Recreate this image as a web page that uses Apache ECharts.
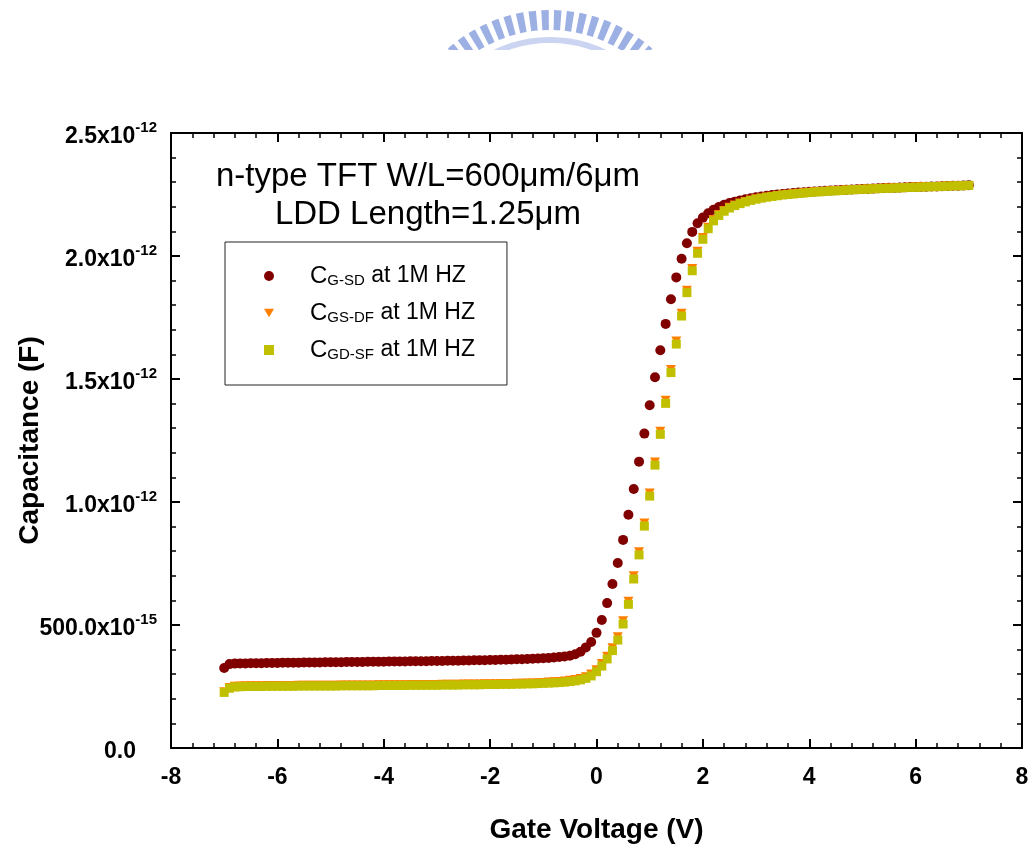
<!DOCTYPE html>
<html>
<head>
<meta charset="utf-8">
<title>C-V</title>
<script src="https://cdn.jsdelivr.net/npm/echarts@6/dist/echarts.min.js"></script>
<style>
  html, body { margin: 0; padding: 0; background: #fff; }
  #cv { width: 1030px; height: 845px; }
</style>
</head>
<body>
<div id="cv"></div>
<script>
// gate voltage sweep (V)
var volt = [
  -7.0,-6.9,-6.8,-6.7,-6.6,-6.5,-6.4,-6.3,-6.2,-6.1,
  -6.0,-5.9,-5.8,-5.7,-5.6,-5.5,-5.4,-5.3,-5.2,-5.1,
  -5.0,-4.9,-4.8,-4.7,-4.6,-4.5,-4.4,-4.3,-4.2,-4.1,
  -4.0,-3.9,-3.8,-3.7,-3.6,-3.5,-3.4,-3.3,-3.2,-3.1,
  -3.0,-2.9,-2.8,-2.7,-2.6,-2.5,-2.4,-2.3,-2.2,-2.1,
  -2.0,-1.9,-1.8,-1.7,-1.6,-1.5,-1.4,-1.3,-1.2,-1.1,
  -1.0,-0.9,-0.8,-0.7,-0.6,-0.5,-0.4,-0.3,-0.2,-0.1,
  0.0,0.1,0.2,0.3,0.4,0.5,0.6,0.7,0.8,0.9,
  1.0,1.1,1.2,1.3,1.4,1.5,1.6,1.7,1.8,1.9,
  2.0,2.1,2.2,2.3,2.4,2.5,2.6,2.7,2.8,2.9,
  3.0,3.1,3.2,3.3,3.4,3.5,3.6,3.7,3.8,3.9,
  4.0,4.1,4.2,4.3,4.4,4.5,4.6,4.7,4.8,4.9,
  5.0,5.1,5.2,5.3,5.4,5.5,5.6,5.7,5.8,5.9,
  6.0,6.1,6.2,6.3,6.4,6.5,6.6,6.7,6.8,6.9,
  7.0
];

// capacitance, in units of 1e-12 F
var cGSD = [
  0.325,0.341,0.343,0.344,0.344,0.345,0.345,0.345,0.346,0.346,
  0.346,0.347,0.347,0.347,0.347,0.348,0.348,0.348,0.348,0.349,
  0.349,0.349,0.349,0.350,0.350,0.350,0.350,0.351,0.351,0.351,
  0.351,0.352,0.352,0.352,0.352,0.353,0.353,0.353,0.353,0.354,
  0.354,0.354,0.355,0.355,0.355,0.356,0.356,0.357,0.357,0.357,
  0.358,0.358,0.359,0.359,0.360,0.361,0.361,0.362,0.363,0.364,
  0.365,0.366,0.368,0.370,0.372,0.375,0.381,0.391,0.409,0.431,
  0.468,0.520,0.589,0.667,0.752,0.846,0.948,1.053,1.164,1.278,
  1.393,1.507,1.617,1.724,1.824,1.913,1.989,2.052,2.098,2.133,
  2.156,2.174,2.188,2.199,2.208,2.215,2.221,2.226,2.231,2.235,
  2.239,2.242,2.245,2.248,2.250,2.252,2.254,2.256,2.258,2.259,
  2.261,2.262,2.263,2.265,2.266,2.267,2.268,2.269,2.270,2.271,
  2.272,2.273,2.274,2.275,2.276,2.277,2.277,2.278,2.279,2.280,
  2.280,2.281,2.282,2.283,2.283,2.284,2.285,2.286,2.286,2.287,
  2.288
];

var cGSDF = [
  0.229,0.246,0.251,0.252,0.253,0.253,0.253,0.253,0.254,0.254,
  0.254,0.254,0.254,0.254,0.255,0.255,0.255,0.255,0.255,0.255,
  0.255,0.255,0.256,0.256,0.256,0.256,0.256,0.256,0.256,0.257,
  0.257,0.257,0.257,0.257,0.257,0.258,0.258,0.258,0.258,0.258,
  0.258,0.259,0.259,0.259,0.259,0.260,0.260,0.260,0.260,0.261,
  0.261,0.261,0.262,0.262,0.262,0.263,0.263,0.264,0.264,0.265,
  0.266,0.268,0.269,0.270,0.272,0.275,0.278,0.283,0.290,0.301,
  0.318,0.343,0.373,0.408,0.452,0.517,0.597,0.700,0.798,0.915,
  1.037,1.163,1.288,1.414,1.539,1.654,1.767,1.861,1.949,2.019,
  2.075,2.117,2.148,2.169,2.185,2.198,2.207,2.215,2.222,2.228,
  2.233,2.236,2.240,2.243,2.246,2.249,2.251,2.253,2.255,2.257,
  2.259,2.261,2.262,2.263,2.265,2.266,2.267,2.268,2.269,2.270,
  2.271,2.272,2.273,2.274,2.275,2.276,2.277,2.277,2.278,2.279,
  2.280,2.281,2.281,2.282,2.283,2.284,2.284,2.285,2.286,2.286,
  2.287
];

var cGDSF = [
  0.226,0.243,0.248,0.249,0.250,0.250,0.250,0.250,0.251,0.251,
  0.251,0.251,0.251,0.251,0.252,0.252,0.252,0.252,0.252,0.252,
  0.252,0.252,0.253,0.253,0.253,0.253,0.253,0.253,0.253,0.254,
  0.254,0.254,0.254,0.254,0.254,0.255,0.255,0.255,0.255,0.255,
  0.255,0.256,0.256,0.256,0.256,0.257,0.257,0.257,0.257,0.258,
  0.258,0.258,0.259,0.259,0.259,0.260,0.260,0.261,0.261,0.262,
  0.263,0.264,0.265,0.266,0.268,0.270,0.273,0.277,0.283,0.293,
  0.310,0.333,0.362,0.396,0.439,0.504,0.584,0.687,0.785,0.902,
  1.024,1.150,1.275,1.401,1.526,1.642,1.756,1.851,1.940,2.011,
  2.068,2.111,2.143,2.165,2.182,2.195,2.205,2.213,2.220,2.226,
  2.231,2.235,2.239,2.242,2.245,2.248,2.250,2.252,2.254,2.256,
  2.258,2.260,2.261,2.263,2.264,2.265,2.266,2.268,2.269,2.270,
  2.271,2.272,2.273,2.274,2.275,2.275,2.276,2.277,2.278,2.279,
  2.279,2.280,2.281,2.282,2.282,2.283,2.284,2.285,2.285,2.286,
  2.287
];

// y tick labels (value in 1e-12 F)
var yTickVal  = [0, 0.5, 1.0, 1.5, 2.0, 2.5];
var yTickMain = ['0.0', '500.0x10', '1.0x10', '1.5x10', '2.0x10', '2.5x10'];
var yTickSup  = ['', '-15', '-12', '-12', '-12', '-12'];

var seriesNames = ['C_G-SD at 1M HZ', 'C_GS-DF at 1M HZ', 'C_GD-SF at 1M HZ'];
var seriesSubs  = ['G-SD', 'GS-DF', 'GD-SF'];

var FONT = '"Liberation Sans", Arial, Helvetica, sans-serif';
var TRI_DOWN = 'path://M0,0L10,0L5,8.6Z';

function pairs(ys) {
    return volt.map(function (v, i) { return [v, ys[i]]; });
}

var myChart = echarts.init(document.getElementById('cv'));

var axisCommon = {
    min: -8, max: 8, interval: 2,
    axisLine: { show: true, onZero: false, lineStyle: { color: '#000', width: 2 } },
    axisTick: { show: true, inside: true, length: 9, lineStyle: { color: '#000', width: 2 } },
    minorTick: { show: true, splitNumber: 5, length: 5, lineStyle: { color: '#000', width: 1.5 } },
    splitLine: { show: false }
};

var yCommon = {
    min: 0, max: 2.5, interval: 0.5,
    axisLine: { show: true, onZero: false, lineStyle: { color: '#000', width: 2 } },
    axisTick: { show: true, inside: true, length: 9, lineStyle: { color: '#000', width: 2 } },
    minorTick: { show: true, splitNumber: 5, length: 5, lineStyle: { color: '#000', width: 1.5 } },
    splitLine: { show: false }
};

var option = {
    animation: false,
    backgroundColor: '#fff',
    textStyle: { fontFamily: FONT },
    grid: { left: 171, right: 8, top: 133, bottom: 97, containLabel: false, outerBoundsMode: 'none' },
    legend: {
        orient: 'vertical',
        left: 225, top: 242,
        padding: [22, 32, 23, 39],
        itemGap: 13,
        itemWidth: 10, itemHeight: 10,
        borderColor: '#222', borderWidth: 1, borderRadius: 0,
        selectedMode: false,
        data: [
            { name: seriesNames[0], icon: 'circle' },
            { name: seriesNames[1], icon: TRI_DOWN },
            { name: seriesNames[2], icon: 'rect' }
        ],
        formatter: function (name) {
            var i = seriesNames.indexOf(name);
            return '{g|}{c|C}{s|' + seriesSubs[i] + '}{t| at 1M HZ}';
        },
        textStyle: {
            fontFamily: FONT,
            rich: {
                g: { width: 31, height: 24 },
                c: { fontSize: 24, lineHeight: 24, color: '#000', fontFamily: FONT },
                s: { fontSize: 15, lineHeight: 11, verticalAlign: 'bottom', color: '#000', fontFamily: FONT },
                t: { fontSize: 23, lineHeight: 24, color: '#000', fontFamily: FONT }
            }
        }
    },
    xAxis: [
        Object.assign({}, axisCommon, {
            type: 'value', position: 'bottom',
            name: 'Gate Voltage (V)', nameLocation: 'middle', nameGap: 68,
            nameMoveOverlap: false,
            nameTextStyle: { fontSize: 28, fontWeight: 'bold', color: '#000', fontFamily: FONT },
            axisLabel: { show: true, margin: 18, fontSize: 23, fontWeight: 'bold', color: '#000', fontFamily: FONT }
        }),
        Object.assign({}, axisCommon, {
            type: 'value', position: 'top',
            axisLabel: { show: false }
        })
    ],
    yAxis: [
        Object.assign({}, yCommon, {
            type: 'value', position: 'left',
            name: 'Capacitance (F)', nameLocation: 'middle', nameGap: 127,
            nameMoveOverlap: false,
            nameTextStyle: { fontSize: 28, fontWeight: 'bold', color: '#000', fontFamily: FONT },
            axisLabel: {
                show: true, margin: 14, color: '#000',
                formatter: function (v) {
                    for (var i = 0; i < yTickVal.length; i++) {
                        if (Math.abs(v - yTickVal[i]) < 1e-6) {
                            if (yTickSup[i]) {
                                return '{m|' + yTickMain[i] + '}{u|' + yTickSup[i] + '}';
                            }
                            return '{m|' + yTickMain[i] + '}{p| }';
                        }
                    }
                    return '';
                },
                rich: {
                    m: { fontSize: 23, fontWeight: 'bold', lineHeight: 26, color: '#000', fontFamily: FONT, padding: [8, 0, 0, 0] },
                    u: { fontSize: 15, fontWeight: 'bold', lineHeight: 14, verticalAlign: 'top', color: '#000', fontFamily: FONT },
                    p: { width: 21 }
                }
            }
        }),
        Object.assign({}, yCommon, {
            type: 'value', position: 'right',
            axisLabel: { show: false }
        })
    ],
    graphic: [
        {
            type: 'arc', silent: true, z: -1,
            shape: { cx: 550, cy: 165, r: 145, startAngle: -2.29, endAngle: -0.85 },
            style: { fill: null, stroke: '#9db0e4', lineWidth: 20, lineDash: [7, 5] }
        },
        {
            type: 'arc', silent: true, z: -1,
            shape: { cx: 550, cy: 165, r: 125, startAngle: -2.2, endAngle: -0.94 },
            style: { fill: null, stroke: '#cbd5f2', lineWidth: 6 }
        },
        {
            type: 'rect', silent: true, z: -1,
            shape: { x: 380, y: 50, width: 320, height: 70 },
            style: { fill: '#fff' }
        },
        {
            type: 'text', silent: true,
            x: 428, y: 158,
            style: {
                text: 'n-type TFT W/L=600\u03bcm/6\u03bcm\nLDD Length=1.25\u03bcm',
                fontSize: 33, lineHeight: 38, fontFamily: FONT, fill: '#000',
                align: 'center'
            }
        }
    ],
    series: [
        {
            name: seriesNames[0], type: 'scatter',
            symbol: 'circle', symbolSize: 10,
            itemStyle: { color: '#800000', opacity: 1 },
            data: pairs(cGSD)
        },
        {
            name: seriesNames[1], type: 'scatter',
            symbol: TRI_DOWN, symbolSize: [10, 9],
            itemStyle: { color: '#ff8000', opacity: 1 },
            data: pairs(cGSDF)
        },
        {
            name: seriesNames[2], type: 'scatter',
            symbol: 'rect', symbolSize: 9,
            itemStyle: { color: '#c0c000', opacity: 1 },
            data: pairs(cGDSF)
        }
    ]
};

myChart.setOption(option);
</script>
</body>
</html>
